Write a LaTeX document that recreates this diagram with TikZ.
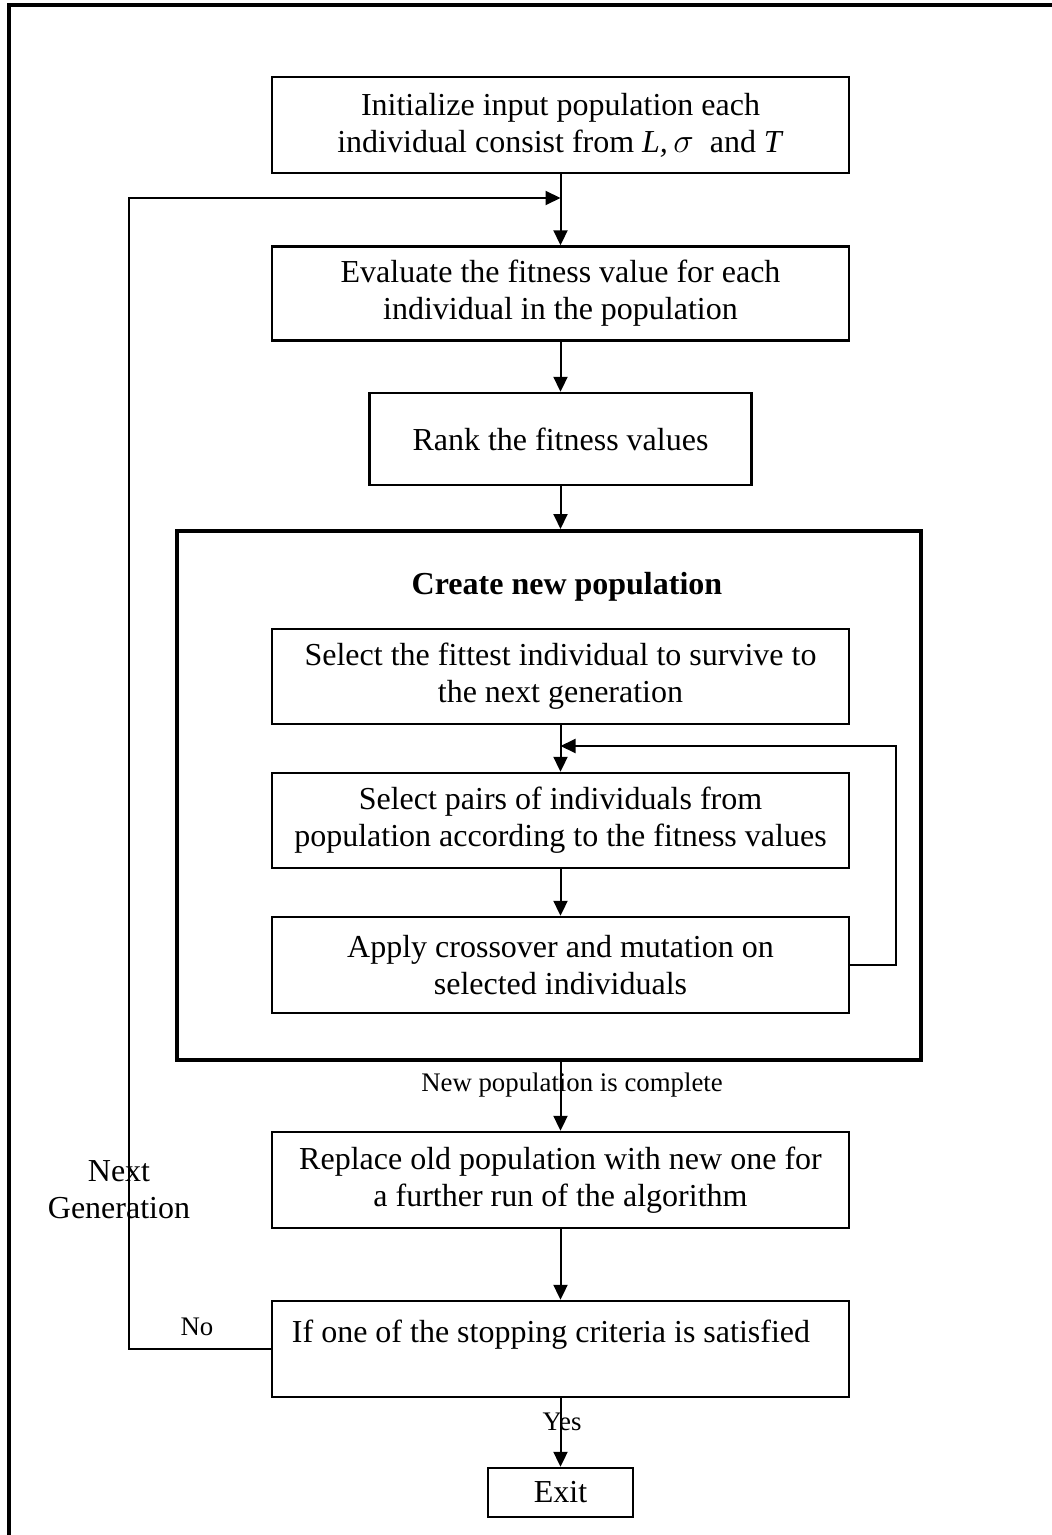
\documentclass[tikz,border=0pt]{standalone}
\usepackage{fontspec}
\setmainfont{Liberation Serif}
\usetikzlibrary{arrows.meta}
\newcommand{\mainfs}{\fontsize{16}{18.5}\selectfont}
\newcommand{\lblfs}{\fontsize{13.4}{15}\selectfont}
\begin{document}
\begin{tikzpicture}[x=0.5pt,y=-0.5pt,
  box/.style={draw,line width=1.2pt,minimum width=288.5pt,minimum height=48pt,inner sep=0pt,align=center,font=\mainfs},
  arr/.style={line width=1pt,-{Triangle[length=7.5pt,width=7pt]}},
  lbl/.style={font=\lblfs,inner sep=0pt}]
\useasboundingbox (0,0) rectangle (1052,1535);
% outer frame
\draw[line width=2pt] (9,1535) -- (9,5) -- (1052,5);

\node[box] (b1) at (560.5,125) {Initialize input population each\\individual consist from \textit{L,}\,$\sigma$\ \ and \textit{T}};
\node[box,minimum height=47pt] (b2) at (560.5,293.5) {Evaluate the fitness value for each\\individual in the population};
\node[box,minimum width=191pt,minimum height=46pt] (b3) at (560.5,439) {Rank the fitness values};
\node[draw,line width=2pt,minimum width=372pt,minimum height=264.5pt,inner sep=0pt] (frame) at (549,795.5) {};
\node[font=\mainfs\bfseries,inner sep=0pt] (title) at (567,587) {Create new population};
\node[box,minimum height=47.5pt] (b4) at (560.5,676.5) {Select the fittest individual to survive to\\the next generation};
\node[box,minimum height=47.5pt] (b5) at (560.5,820.5) {Select pairs of individuals from\\population according to the fitness values};
\node[box] (b6) at (560.5,965) {Apply crossover and mutation on\\selected individuals};
\node[lbl] (newpop) at (572,1085) {New population is complete};
\node[box] (b7) at (560.5,1180) {Replace old population with new one for\\a further run of the algorithm};
\node[box] (b8) at (560.5,1349) {};
\node[font=\mainfs,anchor=base,inner sep=0pt] (b8t) at (551,1342) {If one of the stopping criteria is satisfied};
\node[box,minimum width=72.5pt,minimum height=24.5pt] (exit) at (560.5,1492.5) {Exit};
\node[lbl] (yes) at (562,1422) {Yes};
\node[lbl] (no) at (197,1327) {No};
\node[font=\mainfs,align=center,inner sep=0pt] (nextgen) at (119,1190) {Next\\Generation};

\coordinate (lp) at (129,198);
\coordinate (j1) at (560.5,198);
\coordinate (fb) at (896,746);
\coordinate (j2) at (560.5,746);

\draw[arr] (b1.south) -- (b2.north);
\draw[arr] (b2.south) -- (b3.north);
\draw[arr] (b3.south) -- (b3.south |- frame.north);
\draw[arr] (b4.south) -- (b5.north);
\draw[arr] (b5.south) -- (b6.north);
\draw[arr] (b6.east) -| (fb) -- (j2);
\draw[arr] (b7.north |- frame.south) -- (b7.north);
\draw[arr] (b7.south) -- (b8.north);
\draw[arr] (b8.south) -- (exit.north);
\draw[arr] (b8.west) -| (lp) -- (j1);
\end{tikzpicture}
\end{document}
